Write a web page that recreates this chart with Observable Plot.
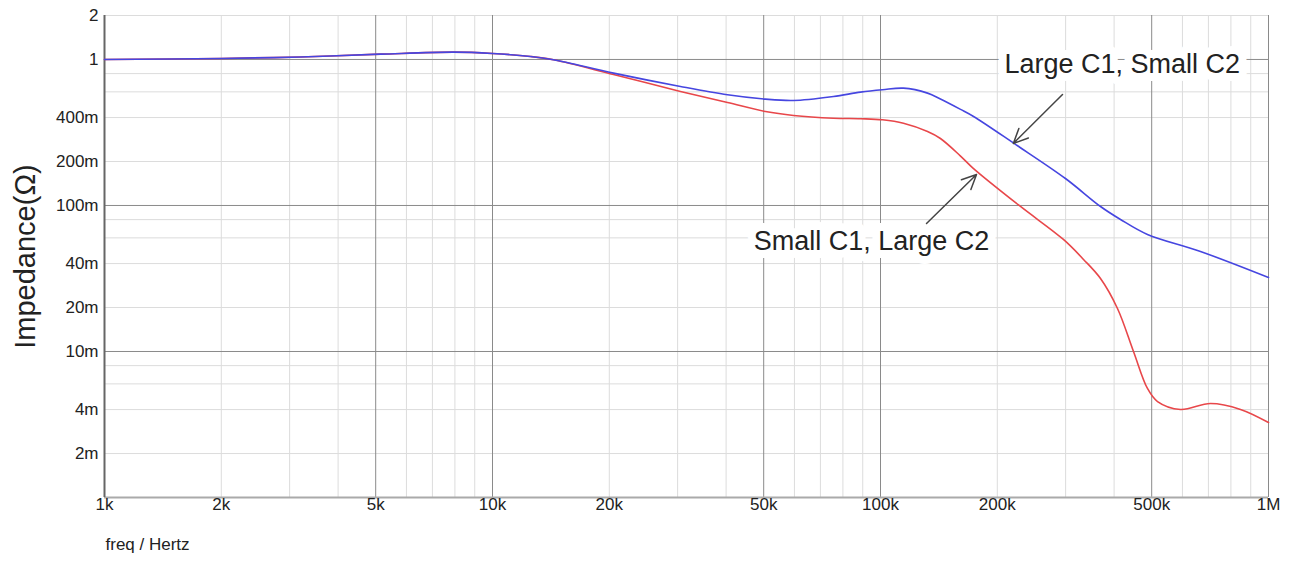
<!DOCTYPE html>
<html>
<head>
<meta charset="utf-8">
<script src="https://cdn.jsdelivr.net/npm/d3@7"></script>
<script src="https://cdn.jsdelivr.net/npm/@observablehq/plot@0.6"></script>
<style>
  html, body { margin: 0; padding: 0; background: #fff; }
  #chart svg { display: block; }
</style>
</head>
<body>
<div id="chart"></div>
<script>
// Frequencies (Hz) and impedance (ohm)
const blueFreq = [1000, 2000, 3200, 5145, 7935, 10000, 12530, 14360, 20500, 30510, 40330, 50520, 59680, 75660, 88830, 101200, 114600, 132200, 142700, 160800, 173700, 222800, 299700, 369000, 415500, 487600, 667900, 1000000];
const blueZ    = [1.0, 1.016, 1.040, 1.087, 1.122, 1.099, 1.048, 0.995, 0.806, 0.653, 0.573, 0.535, 0.524, 0.558, 0.597, 0.620, 0.636, 0.588, 0.536, 0.455, 0.407, 0.262, 0.153, 0.0984, 0.0802, 0.0633, 0.0484, 0.0321];

const redFreq = [1000, 2000, 3200, 5145, 7935, 10000, 12530, 14360, 20500, 30510, 40330, 50520, 59680, 75660, 88830, 101200, 114600, 132200, 142700, 160800, 173700, 229500, 296100, 333600, 369000, 408100, 448800, 487600, 517600, 593200, 708900, 847000, 1000000];
const redZ    = [1.0, 1.016, 1.040, 1.087, 1.122, 1.099, 1.048, 0.995, 0.789, 0.604, 0.507, 0.440, 0.4135, 0.396, 0.3925, 0.386, 0.366, 0.321, 0.2876, 0.218, 0.179, 0.0984, 0.0585, 0.0427, 0.0316, 0.0197, 0.0100, 0.00558, 0.00454, 0.00401, 0.0044, 0.00401, 0.00326];

const seriesNames = ["Large C1, Small C2", "Small C1, Large C2"];

const xTicks = [1000, 2000, 5000, 10000, 20000, 50000, 100000, 200000, 500000, 1000000];
const xTickLabels = ["1k", "2k", "5k", "10k", "20k", "50k", "100k", "200k", "500k", "1M"];
const yTicks = [2, 1, 0.4, 0.2, 0.1, 0.04, 0.02, 0.01, 0.004, 0.002];
const yTickLabels = ["2", "1", "400m", "200m", "100m", "40m", "20m", "10m", "4m", "2m"];

const xMajorGrid = [1000, 5000, 10000, 50000, 100000, 500000, 1000000];
const xMinorGrid = [2000,3000,4000,6000,7000,8000,9000,20000,30000,40000,60000,70000,80000,90000,200000,300000,400000,600000,700000,800000,900000];
const yMajorGrid = [1, 0.1, 0.01];
const yMinorGrid = [2, 0.8, 0.6, 0.4, 0.2, 0.08, 0.06, 0.04, 0.02, 0.008, 0.006, 0.004, 0.002];

// annotation: label positions and arrows (freq, impedance)
const labels = [
  {text: seriesNames[0], f: 420000, z: 0.924},
  {text: seriesNames[1], f: 94800, z: 0.0567}
];
const arrows = [
  {f1: 294500, z1: 0.576, f2: 220000, z2: 0.266},
  {f1: 131400, z1: 0.0753, f2: 176800, z2: 0.163}
];

const xLabel = "freq / Hertz";
const yLabel = "Impedance(Ω)";

const blue = blueFreq.map((f, i) => ({f, z: blueZ[i]}));
const red = redFreq.map((f, i) => ({f, z: redZ[i]}));
const xTickData = xTicks.map((t, i) => ({t, label: xTickLabels[i]}));
const yTickData = yTicks.map((t, i) => ({t, label: yTickLabels[i]}));

const chart = Plot.plot({
  width: 1293,
  height: 562,
  marginLeft: 104,
  marginRight: 25,
  marginTop: 15,
  marginBottom: 65,
  style: {fontFamily: "'Liberation Sans', Arial, sans-serif", fontSize: "17px", color: "#222", background: "#fff"},
  x: {type: "log", domain: [1000, 1000000], axis: null},
  y: {type: "log", domain: [0.001, 2], axis: null},
  marks: [
    Plot.ruleX(xMinorGrid, {stroke: "#dcdcdc", strokeWidth: 1}),
    Plot.ruleY(yMinorGrid, {stroke: "#dcdcdc", strokeWidth: 1}),
    Plot.ruleX(xMajorGrid, {stroke: "#8a8a8a", strokeWidth: 1}),
    Plot.ruleY(yMajorGrid, {stroke: "#8a8a8a", strokeWidth: 1}),
    Plot.ruleY([0.001], {stroke: "#aaa", strokeWidth: 2}),
    Plot.ruleX([1000], {stroke: "#666", strokeWidth: 2}),
    Plot.text(xTickData, {x: "t", text: "label", frameAnchor: "bottom", dy: 12, fontSize: 17, fill: "#222", textAnchor: "middle"}),
    Plot.text(yTickData, {y: "t", text: "label", frameAnchor: "left", dx: -6, fontSize: 17, fill: "#222", textAnchor: "end"}),
    Plot.line(red, {x: "f", y: "z", stroke: "#e8474a", strokeWidth: 1.6, curve: "catmull-rom"}),
    Plot.line(blue, {x: "f", y: "z", stroke: "#4646e0", strokeWidth: 1.6, curve: "catmull-rom"}),
    Plot.text(labels, {x: "f", y: "z", text: "text", fontSize: 27, fill: "#222", stroke: "white", strokeWidth: 16, paintOrder: "stroke", textAnchor: "middle"}),
    Plot.arrow(arrows, {x1: "f1", y1: "z1", x2: "f2", y2: "z2", stroke: "#444", strokeWidth: 1.5, headLength: 16, headAngle: 50}),
    Plot.text([yLabel], {frameAnchor: "left", dx: -79, rotate: -90, fontSize: 29, fill: "#222", textAnchor: "middle"}),
    Plot.text([xLabel], {frameAnchor: "bottom-left", dy: 52, dx: 1, fontSize: 17, fill: "#222", textAnchor: "start"})
  ]
});
document.getElementById("chart").appendChild(chart);
</script>
</body>
</html>
